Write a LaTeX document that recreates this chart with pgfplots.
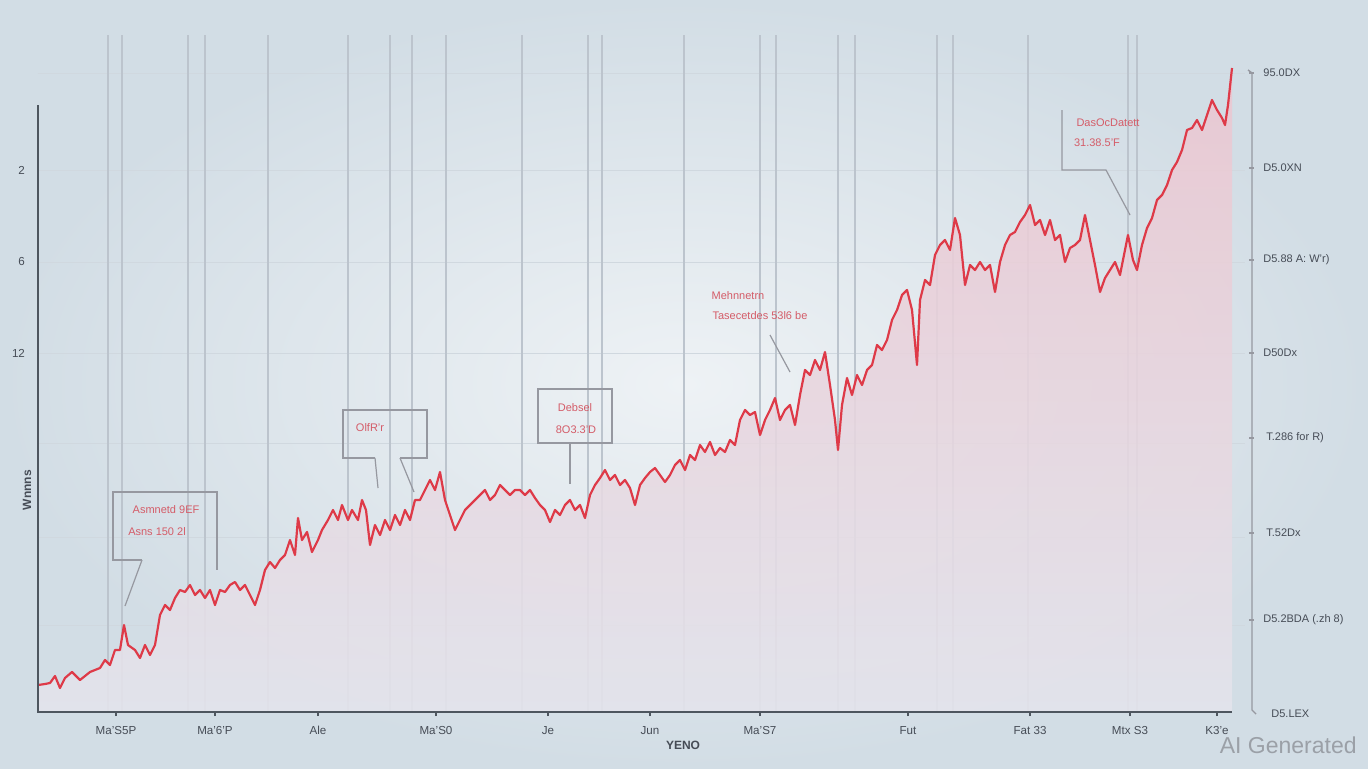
\documentclass[border=0pt]{standalone}
\usepackage{pgfplots}
\usepackage{pgfplotstable}
\pgfplotsset{compat=1.18}
\usepackage{fontspec}
\setmainfont{Liberation Sans}
\definecolor{bgout}{RGB}{210,221,229}
\definecolor{bgin}{RGB}{238,242,245}
\definecolor{vgrid}{RGB}{188,196,205}
\definecolor{hgrid}{RGB}{208,216,223}
\definecolor{axisgray}{RGB}{78,86,95}
\definecolor{lred}{RGB}{222,58,72}
\definecolor{anno}{RGB}{212,92,104}
\definecolor{boxgray}{RGB}{150,152,160}
\definecolor{lbl}{RGB}{70,76,86}
\definecolor{filltop}{RGB}{236,198,208}
\definecolor{fillbot}{RGB}{228,228,236}

\pgfplotstableread{
px py
38 685
45 684
50 683
55 676
60 688
65 678
72 672
80 680
90 672
100 668
105 660
110 665
115 650
120 650
124 625
128 645
135 650
140 658
145 645
150 655
155 645
160 615
165 605
170 610
175 598
180 590
185 592
190 585
195 595
200 590
205 598
210 590
215 605
220 590
225 592
230 585
235 582
240 590
245 585
250 595
255 605
260 590
265 570
270 562
275 568
280 560
285 555
290 540
295 555
298 518
302 540
307 532
312 552
318 540
322 530
328 520
333 510
338 520
342 505
348 520
352 510
358 520
362 500
366 510
370 545
375 525
380 535
385 520
390 530
395 515
400 525
405 510
410 520
415 500
420 500
425 490
430 480
435 490
440 472
445 500
450 515
455 530
460 520
465 510
470 505
475 500
480 495
485 490
490 500
495 495
500 485
505 490
510 495
515 490
520 490
525 495
530 490
535 498
540 505
545 510
550 522
555 510
560 515
565 505
570 500
575 510
580 505
585 518
590 495
595 485
600 478
605 470
610 480
615 475
620 485
625 480
630 488
635 505
640 485
645 478
650 472
655 468
660 475
665 482
670 475
675 465
680 460
685 470
690 455
695 460
700 445
705 452
710 442
715 455
720 448
725 452
730 440
735 445
740 420
745 410
750 415
755 412
760 435
765 420
770 410
775 398
780 420
785 410
790 405
795 425
800 395
805 370
810 375
815 360
820 370
825 352
830 385
835 420
838 450
842 405
847 378
852 395
857 375
862 385
867 370
872 365
877 345
882 350
887 340
892 320
897 310
902 295
907 290
912 310
917 365
920 300
925 280
930 285
935 255
940 245
945 240
950 250
955 218
960 235
965 285
970 265
975 270
980 262
985 270
990 265
995 292
1000 262
1005 245
1010 235
1015 232
1020 222
1025 215
1030 205
1035 225
1040 220
1045 235
1050 220
1055 240
1060 235
1065 262
1070 248
1075 245
1080 240
1085 215
1090 240
1095 265
1100 292
1105 278
1110 270
1115 262
1120 275
1125 250
1128 235
1133 260
1137 270
1142 245
1147 228
1152 218
1157 200
1162 195
1167 185
1172 170
1177 162
1182 150
1187 130
1192 128
1197 120
1202 130
1207 115
1212 100
1217 110
1222 118
1225 125
1228 105
1232 68
}\series

\begin{document}
\begin{tikzpicture}
\useasboundingbox (-19pt,-28pt) rectangle (665pt,356pt);
\shade[inner color=bgin, outer color=bgout] (-19pt,-28pt) rectangle (665pt,356pt);
\begin{axis}[
  x=0.5pt, y=0.5pt,
  xmin=38, xmax=1252, ymin=0, ymax=640,
  anchor=south west, at={(0pt,0pt)},
  clip=false,
  axis x line*=bottom, axis y line*=left,
  axis line style={draw=none},
  /pgf/number format/assume math mode=true,
  xtick={116,215,318,436,548,650,760,908,1030,1130,1217},
  xticklabels={Ma'S5P,Ma'6'P,Ale,Ma'S0,Je,Jun,Ma'S7,Fut,Fat 33,Mtx S3,K3'e},
  xticklabel style={font=\fontsize{5.8}{7}\selectfont, text=lbl, yshift=-1.5pt},
  xtick style={draw=axisgray, line width=0.8pt},
  major tick length=2pt,
  tick align=outside,
  ytick={542,450,359},
  yticklabels={2,6,12},
  yticklabel style={font=\fontsize{5.8}{7}\selectfont, text=lbl, xshift=-1pt},
  ytick style={draw=none},
]
% horizontal grid
\foreach \yy in {639,542,450,359,269,175,87}{
  \edef\tmp{\noexpand\draw[hgrid, line width=0.5pt] (axis cs:38,\yy) -- (axis cs:1245,\yy);}\tmp
}
% vertical grid
\foreach \xx in {108,122,188,205,268,348,390,412,446,522,588,602,684,760,776,838,855,937,953,1028,1128,1137}{
  \edef\tmp{\noexpand\draw[vgrid, line width=0.65pt] (axis cs:\xx,0) -- (axis cs:\xx,677);}\tmp
}
% filled area
\addplot[draw=none, top color=filltop, bottom color=fillbot, fill opacity=0.88]
  table[x=px, y expr=712-\thisrow{py}] {\series} \closedcycle;
% line
\addplot[lred, line width=1.1pt, line join=round]
  table[x=px, y expr=712-\thisrow{py}] {\series};
% axes lines
\draw[axisgray, line width=1.2pt] (axis cs:38,607) -- (axis cs:38,0) -- (axis cs:1232,0);
\draw[boxgray, line width=0.7pt] (axis cs:1248,642) -- (axis cs:1252,639) -- (axis cs:1252,2) -- (axis cs:1256,-2);
\foreach \yy in {639,544,452,359,274,179,92}{
  \edef\tmp{\noexpand\draw[boxgray, line width=0.7pt] (axis cs:1249,\yy) -- (axis cs:1254,\yy);}\tmp
}
% right labels
\begin{scope}[every node/.style={font=\fontsize{5.5}{6.5}\selectfont, text=lbl, anchor=west, inner sep=0pt}]
\node at (axis cs:1263,639) {95.0DX};
\node at (axis cs:1263,544) {D5.0XN};
\node at (axis cs:1263,452) {D5.88 A: W'r)};
\node at (axis cs:1263,359) {D50Dx};
\node at (axis cs:1266,274) {T.286 for R)};
\node at (axis cs:1266,179) {T.52Dx};
\node at (axis cs:1263,92) {D5.2BDA (.zh 8)};
\node at (axis cs:1271,-2) {D5.LEX};
\end{scope}
% y label and x label
\node[rotate=90, font=\bfseries\fontsize{6}{7}\selectfont, text=lbl] at (axis cs:27,222) {Wnnns};
\node[font=\bfseries\fontsize{6}{7}\selectfont, text=lbl] at (axis cs:683,-33) {YENO};
% annotations
\begin{scope}[every node/.style={font=\fontsize{5.5}{6.5}\selectfont, text=anno, inner sep=0pt}]
\draw[boxgray, line width=0.6pt] (axis cs:142,152) -- (axis cs:113,152) -- (axis cs:113,220) -- (axis cs:217,220) -- (axis cs:217,142);
\draw[boxgray, line width=0.6pt] (axis cs:142,152) -- (axis cs:125,106);
\node at (axis cs:166,202) {Asmnetd 9EF};
\node at (axis cs:157,180) {Asns 150 2l};
\draw[boxgray, line width=0.6pt] (axis cs:375,254) -- (axis cs:343,254) -- (axis cs:343,302) -- (axis cs:427,302) -- (axis cs:427,254) -- (axis cs:400,254);
\draw[boxgray, line width=0.6pt] (axis cs:375,254) -- (axis cs:378,224);
\draw[boxgray, line width=0.6pt] (axis cs:400,254) -- (axis cs:414,220);
\node at (axis cs:370,284) {OlfR'r};
\draw[boxgray, line width=0.6pt] (axis cs:538,269) rectangle (axis cs:612,323);
\draw[boxgray, line width=0.6pt] (axis cs:570,269) -- (axis cs:570,228);
\node at (axis cs:575,304) {Debsel};
\node at (axis cs:576,282) {8O3.3'D};
\node at (axis cs:738,416) {Mehnnetrn};
\node at (axis cs:760,396) {Tasecetdes 53l6 be};
\draw[boxgray, line width=0.6pt] (axis cs:770,377) -- (axis cs:790,340);
\draw[boxgray, line width=0.6pt] (axis cs:1062,602) -- (axis cs:1062,542) -- (axis cs:1106,542) -- (axis cs:1130,497);
\node at (axis cs:1108,589) {DasOcDatett};
\node at (axis cs:1097,569) {31.38.5'F};
\end{scope}
\node[font=\fontsize{11.5}{13}\selectfont, text={rgb,255:red,155;green,160;blue,167}, anchor=east, inner sep=0pt] at (axis cs:1357,-33) {AI Generated};
\end{axis}
\end{tikzpicture}
\end{document}
